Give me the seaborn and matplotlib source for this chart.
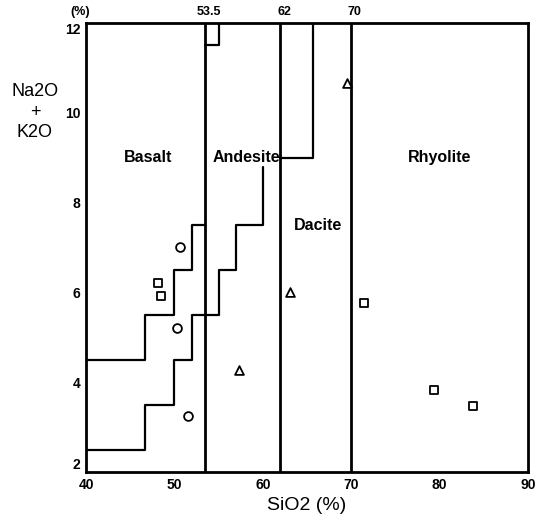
import matplotlib
matplotlib.use("Agg")
import matplotlib.pyplot as plt
import seaborn as sns
import pandas as pd

# ---- data ----
boundaries = [53.5, 62, 70]
boundary_labels = ["53.5", "62", "70"]

lower_step_x = [40, 46.7, 46.7, 50, 50, 52, 52, 55, 55, 57, 57, 60, 60]
lower_step_y = [2.5, 2.5, 3.5, 3.5, 4.5, 4.5, 5.5, 5.5, 6.5, 6.5, 7.5, 7.5, 8.8]
upper_step_x = [40, 46.7, 46.7, 50, 50, 52, 52, 53.5]
upper_step_y = [4.5, 4.5, 5.5, 5.5, 6.5, 6.5, 7.5, 7.5]
top_box1_x = [53.5, 55, 55]
top_box1_y = [11.5, 11.5, 12]
top_box2_x = [62, 65.7, 65.7]
top_box2_y = [9, 9, 12]

circle_x = [50.6, 50.3, 51.5]
circle_y = [7.0, 5.2, 3.25]
square_x = [48.1, 48.5, 71.5, 79.4, 83.8]
square_y = [6.2, 5.93, 5.76, 3.83, 3.48]
triangle_x = [57.3, 63.1, 69.5]
triangle_y = [4.27, 6.0, 10.67]

rock_names = ["Basalt", "Andesite", "Dacite", "Rhyolite"]
rock_x = [47.0, 58.2, 66.2, 80.0]
rock_y = [9.0, 9.0, 7.5, 9.0]

x_ticks = [40, 50, 60, 70, 80, 90]
y_ticks = [2, 4, 6, 8, 10, 12]

# ---- plot ----
sns.set_style("white")
plt.rcParams['font.family'] = ['Liberation Sans', 'DejaVu Sans']
plt.rcParams.update({"text.color": "black", "axes.labelcolor": "black",
                     "xtick.color": "black", "ytick.color": "black"})

fig = plt.figure(figsize=(5.38, 5.21), dpi=100)
ax = fig.add_axes([0.16, 0.094, 0.821, 0.862])

for b in boundaries:
    ax.axvline(b, color="black", lw=2)

lines = [
    (lower_step_x, lower_step_y),
    (upper_step_x, upper_step_y),
    (top_box1_x, top_box1_y),
    (top_box2_x, top_box2_y),
]
for i, (lx, ly) in enumerate(lines):
    df = pd.DataFrame({"x": lx, "y": ly})
    sns.lineplot(data=df, x="x", y="y", sort=False, estimator=None,
                 color="black", lw=1.6, ax=ax)

for xs, ys, m in [(circle_x, circle_y, "o"), (square_x, square_y, "s"),
                  (triangle_x, triangle_y, "^")]:
    sns.scatterplot(x=xs, y=ys, marker=m, s=40, facecolor="white",
                    edgecolor="black", linewidth=1.3, ax=ax, zorder=5)

for name, tx, ty in zip(rock_names, rock_x, rock_y):
    ax.text(tx, ty, name, ha="center", va="center", fontsize=11.5,
            fontweight="bold")

ax.set_xlim(40, 90)
ax.set_ylim(2, 12)
ax.set_xticks(x_ticks)
ax.set_yticks(y_ticks)
ax.tick_params(direction="in", length=5, width=1.3, labelsize=10,
               pad=4)
for lab in ax.get_xticklabels() + ax.get_yticklabels():
    lab.set_fontweight("bold")
ylabs = ax.get_yticklabels()
ylabs[-1].set_va("top")
ylabs[0].set_va("bottom")
for s in ax.spines.values():
    s.set_color("black")
    s.set_linewidth(2)

ax.set_xlabel("SiO2 (%)", fontsize=14, labelpad=4)
ax.set_ylabel("")
fig.text(0.065, 0.785, "Na2O\n+\nK2O", ha="center", va="center",
         fontsize=13, linespacing=1.25)

for b, lab in zip(boundaries, boundary_labels):
    ax.text(b + 0.4, 12.1, lab, ha="center", va="bottom", fontsize=9,
            fontweight="bold")
ax.text(-0.014, 12.1, "(%)", transform=ax.get_yaxis_transform(),
        ha="center", va="bottom", fontsize=9, fontweight="bold")

fig.savefig("out.png", dpi=100)
